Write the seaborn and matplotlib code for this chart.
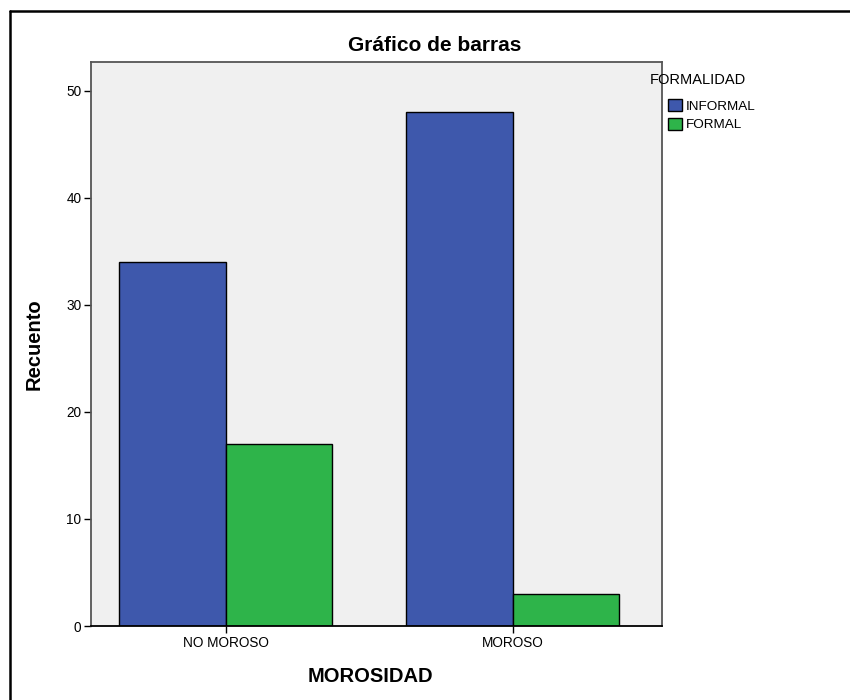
import matplotlib
matplotlib.use("Agg")
import matplotlib.pyplot as plt
from matplotlib.lines import Line2D
import pandas as pd
import seaborn as sns

morosidad = ["NO MOROSO", "NO MOROSO", "MOROSO", "MOROSO"]
formalidad = ["INFORMAL", "FORMAL", "INFORMAL", "FORMAL"]
recuento = [34, 17, 48, 3]
colores = {"INFORMAL": "#3E58AC", "FORMAL": "#2EB44A"}
yticks = [0, 10, 20, 30, 40, 50]

df = pd.DataFrame({"MOROSIDAD": morosidad, "FORMALIDAD": formalidad, "Recuento": recuento})

sns.set_style("white")
plt.rcParams['font.family'] = ['Liberation Sans', 'DejaVu Sans']
plt.rcParams['text.color'] = 'black'
plt.rcParams['axes.labelcolor'] = 'black'
plt.rcParams['xtick.color'] = 'black'
plt.rcParams['ytick.color'] = 'black'

fig = plt.figure(figsize=(8.5, 7), dpi=100)
ax = fig.add_axes([91/850, 1 - 626/700, (662 - 91)/850, (626 - 62)/700])
ax.set_facecolor("#F0F0F0")

sns.barplot(data=df, x="MOROSIDAD", y="Recuento", hue="FORMALIDAD",
            order=["NO MOROSO", "MOROSO"], hue_order=["INFORMAL", "FORMAL"],
            palette=colores, width=0.743, edgecolor="black", linewidth=1,
            saturation=1, ax=ax)

ax.set_xlim(-0.47, 1.52)
ax.set_ylim(0, 52.7)
ax.set_yticks(yticks)
ax.tick_params(axis="both", direction="out", length=5, width=1, color="black",
               labelsize=9.8, labelcolor="black", left=True, bottom=True, pad=2)
for s in ax.spines.values():
    s.set_visible(True)
    s.set_color("#555555")
    s.set_linewidth(1.3)
ax.spines["bottom"].set_color("black")

ax.set_title("Gráfico de barras", fontsize=15, fontweight="bold", pad=8, x=0.602,
             color="black")
ax.set_ylabel("Recuento", fontsize=14.5, fontweight="bold", color="black")
ax.set_xlabel("MOROSIDAD", fontsize=14.5, fontweight="bold", va="center", color="black")
ax.yaxis.set_label_coords(-0.083, 0.5)
ax.xaxis.set_label_coords(0.49, -0.089)

# leyenda estilo SPSS
handles, labels = ax.get_legend_handles_labels()
leg = ax.legend(handles, labels, loc="upper left", bbox_to_anchor=(668/850, 1 - 99/700),
                bbox_transform=fig.transFigure, frameon=False, fontsize=9.7,
                handlelength=1.05, handleheight=1.05, handletextpad=0.25,
                labelspacing=0.35, borderpad=0, borderaxespad=0)
for t in leg.get_texts():
    t.set_color("black")
fig.text(650/850, 1 - 80/700, "FORMALIDAD", fontsize=10.5, va="center", ha="left",
         color="black")

# marco exterior
fig.add_artist(Line2D([10/850, 1], [1 - 11/700, 1 - 11/700], color="black", lw=1.8,
                      transform=fig.transFigure))
fig.add_artist(Line2D([10/850, 10/850], [0, 1 - 11/700], color="black", lw=1.8,
                      transform=fig.transFigure))

fig.savefig("out.png", dpi=100)
